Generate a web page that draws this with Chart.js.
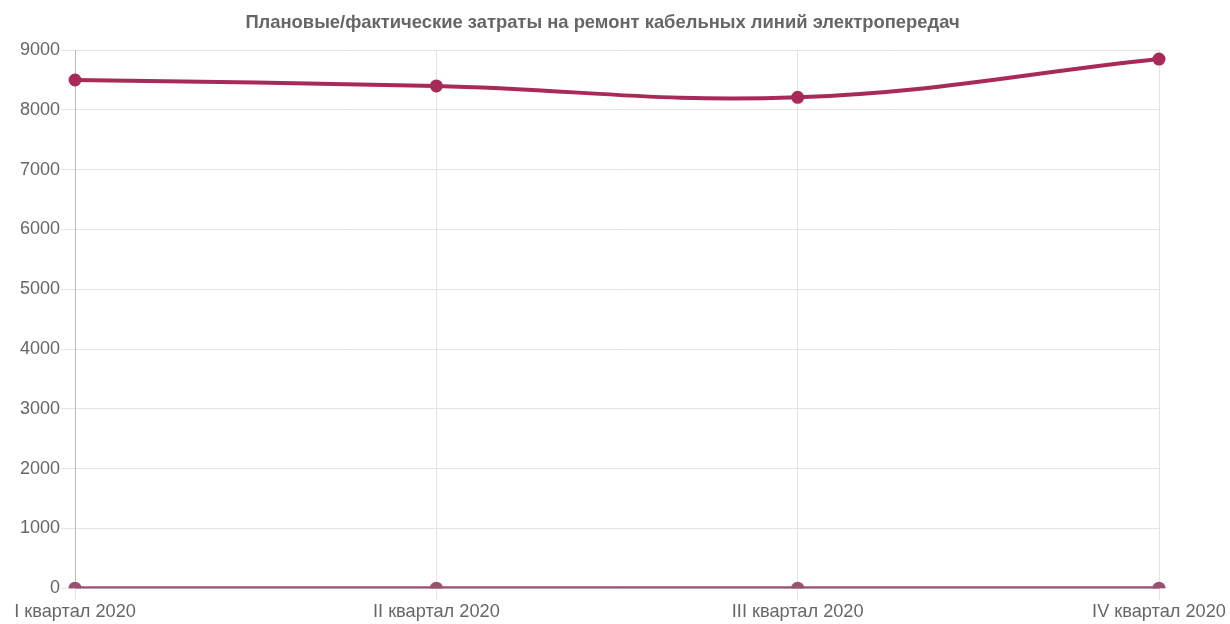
<!DOCTYPE html>
<html>
<head>
<meta charset="utf-8">
<script src="https://cdn.jsdelivr.net/npm/chart.js@4/dist/chart.umd.min.js"></script>
<style>
  html, body { margin: 0; padding: 0; background: #fff; }
  #wrap { width: 1230px; height: 624px; }
</style>
</head>
<body>
<div id="wrap"><canvas id="costChart"></canvas></div>
<script>
// Кварталы и затраты (план / факт)
const quarters = ['I квартал 2020', 'II квартал 2020', 'III квартал 2020', 'IV квартал 2020'];
const planCosts = [8500, 8400, 8210, 8850];
const factCosts = [0, 0, 0, 0];
const yTicks = [0, 1000, 2000, 3000, 4000, 5000, 6000, 7000, 8000, 9000];

Chart.defaults.font.family = '"Liberation Sans", Arial, Helvetica, sans-serif';
Chart.defaults.color = '#666';

const ctx = document.getElementById('costChart').getContext('2d');
const chart = new Chart(ctx, {
    type: 'line',
    data: {
        labels: quarters,
        datasets: [
            {
                label: 'План',
                data: planCosts,
                borderColor: '#a82a58',
                backgroundColor: '#a82a58',
                borderWidth: 4,
                pointRadius: 4.5,
                pointHoverRadius: 4.5,
                tension: 0.4,
                fill: false
            },
            {
                label: 'Факт',
                data: factCosts,
                borderColor: '#9b4f72',
                backgroundColor: '#9b4f72',
                borderWidth: 4,
                pointRadius: 4.5,
                pointHoverRadius: 4.5,
                tension: 0.4,
                fill: false
            }
        ]
    },
    options: {
        responsive: true,
        maintainAspectRatio: false,
        animation: false,
        layout: { padding: { left: 19, right: 44, top: 0, bottom: 0 } },
        plugins: {
            legend: { display: false },
            tooltip: { enabled: false },
            title: {
                display: true,
                text: 'Плановые/фактические затраты на ремонт кабельных линий электропередач',
                color: '#666',
                font: { size: 18.4, weight: 'bold' },
                padding: { top: 12, bottom: 16 }
            }
        },
        scales: {
            x: {
                offset: false,
                grid: { color: '#e3e3e3', tickLength: 12 },
                border: { color: '#bbb' },
                ticks: { font: { size: 18.2 }, maxRotation: 0, padding: 1 },
                // оставляем место справа под последнюю подпись
                afterFit: (axis) => {
                    axis.paddingRight = Math.max(axis.paddingRight, 71);
                }
            },
            y: {
                min: 0,
                max: 9000,
                afterBuildTicks: (axis) => {
                    axis.ticks = yTicks.map(v => ({ value: v }));
                },
                grid: { color: '#e3e3e3', tickLength: 14 },
                border: { color: '#bbb' },
                ticks: { font: { size: 18 }, padding: 1, callback: (v) => String(v) }
            }
        }
    }
});
</script>
</body>
</html>
